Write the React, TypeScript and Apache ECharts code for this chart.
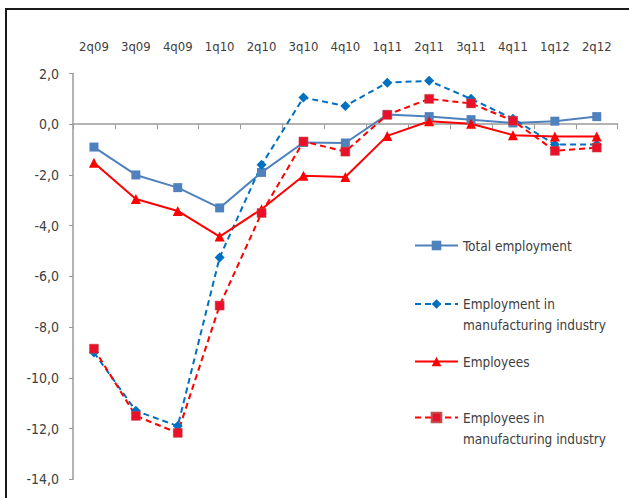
import React, { useEffect, useRef } from "react";
import * as echarts from "echarts";

const categories = ["2q09", "3q09", "4q09", "1q10", "2q10", "3q10", "4q10", "1q11", "2q11", "3q11", "4q11", "1q12", "2q12"];
const totalEmployment = [-0.9, -2.0, -2.5, -3.3, -1.9, -0.72, -0.74, 0.38, 0.3, 0.18, 0.05, 0.12, 0.3];
const manufEmployment = [-9.0, -11.3, -11.9, -5.25, -1.6, 1.05, 0.72, 1.64, 1.71, 1.0, 0.22, -0.8, -0.8];
const employees = [-1.52, -2.95, -3.42, -4.43, -3.35, -2.03, -2.08, -0.46, 0.12, 0.02, -0.43, -0.48, -0.48];
const manufEmployees = [-8.85, -11.5, -12.17, -7.15, -3.5, -0.68, -1.08, 0.37, 1.0, 0.82, 0.14, -1.05, -0.92];
const yTicks = { min: -14, max: 2, interval: 2 };

const NAMES = {
  total: "Total employment",
  manEmp: "Employment in manufacturing industry",
  emp: "Employees",
  manEe: "Employees in manufacturing industry",
};

const NARROW = "'DejaVu Sans Condensed', 'Liberation Sans', sans-serif";
const DIAMOND = "path://M5,0 L10,5 L5,10 L0,5 Z";

export default function App() {
  const ref = useRef<HTMLDivElement>(null);
  useEffect(() => {
    document.body.style.margin = "0";
    if (!ref.current) return;
    const chart = echarts.init(ref.current, null, { renderer: "svg" });
    const legendBase = {
      orient: "vertical" as const,
      left: 414,
      padding: 0,
      itemWidth: 43,
      itemHeight: 12,
      textStyle: { fontFamily: NARROW, fontSize: 13.5, color: "#404040", lineHeight: 21 },
      selectedMode: false,
    };
    chart.setOption({
      animation: false,
      backgroundColor: "#fff",
      grid: { left: 73, right: 11.3, top: 73.5, bottom: 18.7 },
      xAxis: [
        {
          type: "category",
          data: categories,
          position: "top",
          axisLine: { show: false, onZero: false },
          axisTick: { show: false },
          axisLabel: { margin: 21, fontFamily: NARROW, fontSize: 13, color: "#404040" },
        },
        {
          type: "category",
          data: categories,
          position: "bottom",
          axisLine: { show: true, onZero: true, lineStyle: { color: "#9a9a9a", width: 1.5 } },
          axisTick: { show: true, length: 5, lineStyle: { color: "#9a9a9a" } },
          axisLabel: { show: false },
        },
      ],
      yAxis: {
        type: "value",
        min: yTicks.min,
        max: yTicks.max,
        interval: yTicks.interval,
        splitLine: { show: false },
        axisLine: { show: true, lineStyle: { color: "#9a9a9a", width: 1.5 } },
        axisTick: { show: true, length: 4, lineStyle: { color: "#9a9a9a" } },
        axisLabel: {
          margin: 14,
          fontFamily: NARROW,
          fontSize: 14,
          color: "#404040",
          formatter: (v: number) => v.toFixed(1).replace(".", ","),
        },
      },
      legend: [
        { ...legendBase, top: 245.5 - 10.5, data: [NAMES.total] },
        {
          ...legendBase,
          top: 304 - 31.5,
          data: [NAMES.manEmp],
          formatter: () => "\nEmployment in\nmanufacturing industry",
        },
        { ...legendBase, top: 361.5 - 10.5, data: [NAMES.emp] },
        {
          ...legendBase,
          top: 417.5 - 31.5,
          data: [NAMES.manEe],
          formatter: () => "\nEmployees in\nmanufacturing industry",
        },
      ],
      graphic: [
        {
          type: "rect",
          shape: { x: 6, y: 9, width: 700, height: 600 },
          style: { fill: "none", stroke: "#1a1a1a", lineWidth: 2 },
          silent: true,
        },
      ],
      series: [
        {
          name: NAMES.total,
          type: "line",
          data: totalEmployment,
          symbol: "rect",
          symbolSize: 9,
          color: "#4F81BD",
          lineStyle: { width: 2, color: "#4F81BD" },
          itemStyle: { color: "#4F81BD" },
        },
        {
          name: NAMES.manEmp,
          type: "line",
          data: manufEmployment,
          symbol: DIAMOND,
          symbolSize: 10,
          color: "#0070C0",
          lineStyle: { width: 2, color: "#0070C0", type: [6, 4] },
          itemStyle: { color: "#0070C0" },
        },
        {
          name: NAMES.emp,
          type: "line",
          data: employees,
          symbol: "triangle",
          symbolSize: 10,
          color: "#FF0000",
          lineStyle: { width: 2, color: "#FF0000" },
          itemStyle: { color: "#FF0000" },
        },
        {
          name: NAMES.manEe,
          type: "line",
          data: manufEmployees,
          symbol: "rect",
          symbolSize: 9,
          color: "#FF0000",
          lineStyle: { width: 2, color: "#FF0000", type: [6, 4] },
          itemStyle: { color: "#E8102A", borderColor: "#C0504D", borderWidth: 0.5 },
        },
      ],
    });
    return () => chart.dispose();
  }, []);
  return <div ref={ref} style={{ width: 629, height: 498 }} />;
}
